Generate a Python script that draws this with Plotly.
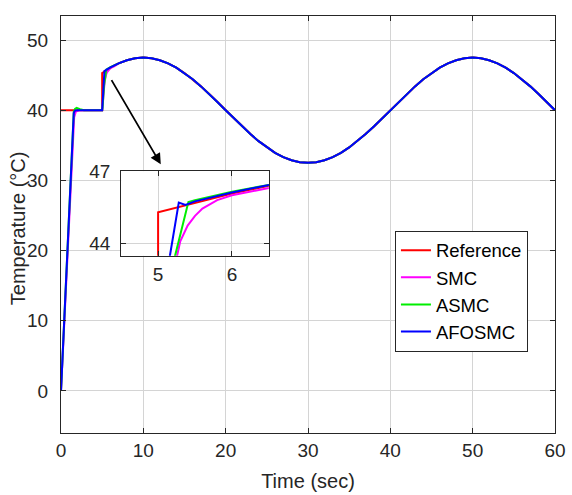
import plotly.graph_objects as go

# ---- data ----
# common tracking part (all signals coincide), t >= 7 s
tail_time = list(range(7, 61))
tail_temp = [46.68, 47.13, 47.41, 47.50, 47.41, 47.13, 46.68, 46.07, 45.30, 44.41,
             43.40, 42.32, 41.17, 40.00, 38.83, 37.68, 36.60, 35.59, 34.70, 33.93,
             33.32, 32.87, 32.59, 32.50, 32.59, 32.87, 33.32, 33.93, 34.70, 35.59,
             36.60, 37.68, 38.83, 40.00, 41.17, 42.32, 43.40, 44.41, 45.30, 46.07,
             46.68, 47.13, 47.41, 47.50, 47.41, 47.13, 46.68, 46.07, 45.30, 44.41,
             43.40, 42.32, 41.17, 40.00]

ref_time = [0, 5, 5, 5.5, 6, 6.5]
ref_temp = [40, 40, 45.30, 45.70, 46.07, 46.39]

smc_time = [0, 0.5, 1.0, 1.4, 1.6, 1.8, 2.2, 5.0, 5.1, 5.2, 5.25, 5.3, 5.4, 5.5,
            5.6, 5.8, 6.0, 6.5]
smc_temp = [0, 12.3, 25.2, 35.8, 39.0, 39.8, 40.0, 40.0, 41.0, 42.5, 43.4, 44.1,
            44.75, 45.15, 45.45, 45.8, 46.0, 46.3]

asmc_time = [0, 0.5, 1.0, 1.4, 1.55, 1.7, 1.9, 2.3, 2.8, 5.0, 5.05, 5.23, 5.41,
             5.5, 6.0, 6.5]
asmc_temp = [0, 13.2, 26.5, 37.5, 39.8, 40.2, 40.35, 40.15, 40.0, 40.0, 40.4,
             43.5, 45.72, 45.8, 46.15, 46.43]

afosmc_time = [0, 0.5, 1.0, 1.4, 1.55, 1.7, 2.0, 5.0, 5.16, 5.28, 5.37, 5.5,
               6.0, 6.5]
afosmc_temp = [0, 12.8, 25.8, 37.0, 39.6, 39.95, 40.0, 40.0, 43.5, 45.7, 45.6,
               45.75, 46.12, 46.43]

names = ["Reference", "SMC", "ASMC", "AFOSMC"]
colors = ["#ff0000", "#ff00ff", "#00ee00", "#0000ff"]
series_time = [ref_time, smc_time, asmc_time, afosmc_time]
series_temp = [ref_temp, smc_temp, asmc_temp, afosmc_temp]

x_ticks = [0, 10, 20, 30, 40, 50, 60]
y_ticks = [0, 10, 20, 30, 40, 50]
inset_x_ticks = [5, 6]
inset_y_ticks = [44, 47]

FONT = "Liberation Sans, Arial, sans-serif"
AX = "#262626"
GRID = "#d4d4d4"

fig = go.Figure()
for nm, col, tt, yy in zip(names, colors, series_time, series_temp):
    fig.add_trace(go.Scatter(x=tt + tail_time, y=yy + tail_temp, mode="lines",
                             name=nm, line=dict(color=col, width=2)))
for nm, col, tt, yy in zip(names, colors, series_time, series_temp):
    fig.add_trace(go.Scatter(x=tt + tail_time, y=yy + tail_temp, mode="lines",
                             name=nm, showlegend=False, xaxis="x2", yaxis="y2",
                             line=dict(color=col, width=2)))

common_axis = dict(showline=True, linecolor=AX, linewidth=1, mirror="ticks",
                   ticks="inside", ticklen=5, tickcolor=AX, showgrid=True,
                   gridcolor=GRID, gridwidth=1, zeroline=False,
                   tickfont=dict(family=FONT, size=19, color=AX))

fig.update_layout(
    width=572, height=495,
    margin=dict(l=61, r=13, t=6, b=62),
    paper_bgcolor="white", plot_bgcolor="white",
    font=dict(family=FONT, size=19, color=AX),
    xaxis=dict(range=[0, 60], tickvals=x_ticks, domain=[0, 1],
               ticklabelstandoff=0,
               title=dict(text="Time (sec)", font=dict(family=FONT, size=20, color=AX),
                          standoff=14),
               **common_axis),
    yaxis=dict(range=[-6, 53.43], tickvals=y_ticks, domain=[0, 1],
               ticklabelstandoff=8, **common_axis),
    xaxis2=dict(range=[4.5, 6.5], tickvals=inset_x_ticks, domain=[0.1218, 0.4208],
                anchor="y2", ticklabelstandoff=1, **common_axis),
    yaxis2=dict(range=[43.5, 47.0], tickvals=inset_y_ticks, domain=[0.425, 0.628],
                anchor="x2", ticklabelstandoff=6, **common_axis),
    legend=dict(x=0.676, y=0.485, xanchor="left", yanchor="top",
                bgcolor="white", bordercolor=AX, borderwidth=1,
                font=dict(family=FONT, size=18.5, color="black"),
                itemwidth=30, tracegroupgap=0),
    showlegend=True,
)

fig.add_annotation(text="Temperature (°C)", xref="paper", yref="paper",
                   x=-0.088, y=0.49, textangle=-90, showarrow=False,
                   xanchor="center", yanchor="middle",
                   font=dict(family=FONT, size=20, color=AX))

fig.add_annotation(x=12.12, y=32.3, ax=6.03, ay=44.5, xref="x", yref="y",
                   axref="x", ayref="y", showarrow=True, arrowhead=2,
                   arrowsize=1.2, arrowwidth=1.8, arrowcolor="black", text="")

fig.write_html("out.html")
